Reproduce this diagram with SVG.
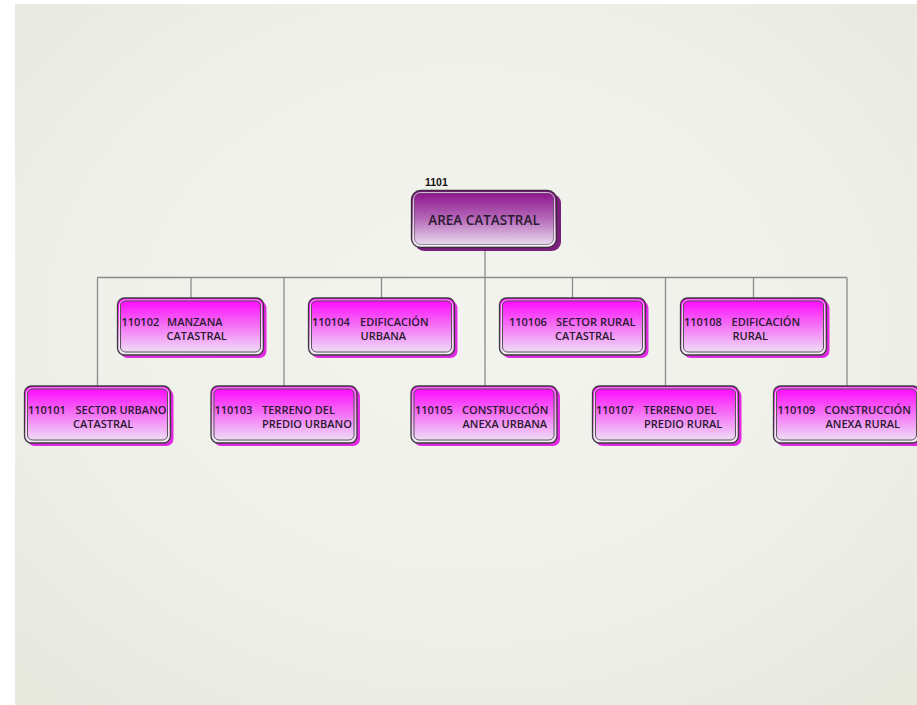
<svg xmlns="http://www.w3.org/2000/svg" width="917" height="705" viewBox="0 0 917 705">
<defs>
  <radialGradient id="bg" cx="0.5" cy="0.45" r="0.7">
    <stop offset="0" stop-color="#f4f4ef"/>
    <stop offset="0.6" stop-color="#eff0e9"/>
    <stop offset="1" stop-color="#e7e9df"/>
  </radialGradient>
  <linearGradient id="child" x1="0" y1="0" x2="0" y2="1">
    <stop offset="0" stop-color="#ff00ff"/>
    <stop offset="0.45" stop-color="#f56af5"/>
    <stop offset="1" stop-color="#efe8f8"/>
  </linearGradient>
  <linearGradient id="root" x1="0" y1="0" x2="0" y2="1">
    <stop offset="0" stop-color="#880e8a"/>
    <stop offset="0.5" stop-color="#b66ab9"/>
    <stop offset="1" stop-color="#eee6f4"/>
  </linearGradient>
</defs>
<style>
  .shadow { fill: #e42ae4; }
  .rshadow { fill: #7c1f7c; }
  .box { fill: url(#child); stroke: #3c3c3c; stroke-width: 1.3; }
  .rbox { fill: url(#root); stroke: #3a2a3a; stroke-width: 1.3; }
  .inner { fill: none; stroke: #fafafa; stroke-width: 1; stroke-opacity: 0.7; }
  .inner2 { fill: none; stroke: #555; stroke-width: 1; }
  .lbl { font-family: "Open Sans", "DejaVu Sans", sans-serif; font-weight: 600; font-size: 11px; fill: #2a1a30; }
  .rlbl { font-family: "Open Sans", "DejaVu Sans", sans-serif; font-weight: 600; font-size: 13.5px; fill: #2a1a30; }
  .code { font-family: "Liberation Sans", Arial, sans-serif; font-weight: bold; font-size: 10.5px; fill: #111; }
  .conn { stroke: #8a8a8a; stroke-width: 1.3; fill: none; }
</style>

<rect x="0" y="0" width="917" height="705" fill="#ffffff"/>
<rect x="15" y="4" width="902" height="701" fill="url(#bg)"/>

<g id="connectors">
  <line class="conn" x1="485" y1="248" x2="485" y2="386"/>
  <line class="conn" x1="97.5" y1="277.5" x2="847" y2="277.5"/>
  <line class="conn" x1="191" y1="277.5" x2="191" y2="298"/>
  <line class="conn" x1="381.5" y1="277.5" x2="381.5" y2="298"/>
  <line class="conn" x1="572.5" y1="277.5" x2="572.5" y2="298"/>
  <line class="conn" x1="753.5" y1="277.5" x2="753.5" y2="298"/>
  <line class="conn" x1="97.5" y1="277.5" x2="97.5" y2="386"/>
  <line class="conn" x1="284" y1="277.5" x2="284" y2="386"/>
  <line class="conn" x1="665.5" y1="277.5" x2="665.5" y2="386"/>
  <line class="conn" x1="847" y1="277.5" x2="847" y2="386"/>
</g>

<g id="n1101">
  <text class="code" x="425" y="185.5">1101</text>
  <rect class="rshadow" x="415" y="194" width="146" height="57" rx="9"/>
  <rect class="rbox" x="411.5" y="190.5" width="145" height="57" rx="9"/>
  <rect class="inner" x="413.5" y="192.5" width="141" height="53" rx="7"/>
  <rect class="inner2" x="414.5" y="193.5" width="139" height="51" rx="6.5" stroke-opacity="0.6"/>
  <text class="rlbl" x="484" y="224.5" text-anchor="middle">AREA CATASTRAL</text>
</g>

<g id="n110102">
  <rect class="shadow" x="120.5" y="301" width="146" height="57" rx="7"/>
  <rect class="box" x="117.5" y="298" width="146" height="57" rx="7"/>
  <rect class="inner" x="119.5" y="300" width="142" height="53" rx="5.5"/>
  <rect class="inner2" x="120.5" y="301" width="140" height="51" rx="5"/>
  <text class="lbl"><tspan x="121.5" y="326">110102</tspan><tspan x="167" y="326">MANZANA</tspan><tspan x="166.5" y="339.5">CATASTRAL</tspan></text>
</g>

<g id="n110104">
  <rect class="shadow" x="311.5" y="301" width="146" height="57" rx="7"/>
  <rect class="box" x="308.5" y="298" width="146" height="57" rx="7"/>
  <rect class="inner" x="310.5" y="300" width="142" height="53" rx="5.5"/>
  <rect class="inner2" x="311.5" y="301" width="140" height="51" rx="5"/>
  <text class="lbl"><tspan x="312" y="326">110104</tspan><tspan x="360" y="326">EDIFICACIÓN</tspan><tspan x="360.5" y="339.5">URBANA</tspan></text>
</g>

<g id="n110106">
  <rect class="shadow" x="502.5" y="301" width="146" height="57" rx="7"/>
  <rect class="box" x="499.5" y="298" width="146" height="57" rx="7"/>
  <rect class="inner" x="501.5" y="300" width="142" height="53" rx="5.5"/>
  <rect class="inner2" x="502.5" y="301" width="140" height="51" rx="5"/>
  <text class="lbl"><tspan x="509" y="326">110106</tspan><tspan x="556" y="326">SECTOR RURAL</tspan><tspan x="555" y="339.5">CATASTRAL</tspan></text>
</g>

<g id="n110108">
  <rect class="shadow" x="683.5" y="301" width="146" height="57" rx="7"/>
  <rect class="box" x="680.5" y="298" width="146" height="57" rx="7"/>
  <rect class="inner" x="682.5" y="300" width="142" height="53" rx="5.5"/>
  <rect class="inner2" x="683.5" y="301" width="140" height="51" rx="5"/>
  <text class="lbl"><tspan x="684" y="326">110108</tspan><tspan x="731.5" y="326">EDIFICACIÓN</tspan><tspan x="732.5" y="339.5">RURAL</tspan></text>
</g>

<g id="n110101">
  <rect class="shadow" x="27.5" y="389" width="146" height="57" rx="7"/>
  <rect class="box" x="24.5" y="386" width="146" height="57" rx="7"/>
  <rect class="inner" x="26.5" y="388" width="142" height="53" rx="5.5"/>
  <rect class="inner2" x="27.5" y="389" width="140" height="51" rx="5"/>
  <text class="lbl"><tspan x="28" y="414.3">110101</tspan><tspan x="75.5" y="414.3">SECTOR URBANO</tspan><tspan x="73" y="427.7">CATASTRAL</tspan></text>
</g>

<g id="n110103">
  <rect class="shadow" x="214" y="389" width="146" height="57" rx="7"/>
  <rect class="box" x="211" y="386" width="146" height="57" rx="7"/>
  <rect class="inner" x="213" y="388" width="142" height="53" rx="5.5"/>
  <rect class="inner2" x="214" y="389" width="140" height="51" rx="5"/>
  <text class="lbl"><tspan x="214.5" y="414.3">110103</tspan><tspan x="262" y="414.3">TERRENO DEL</tspan><tspan x="262" y="427.7">PREDIO URBANO</tspan></text>
</g>

<g id="n110105">
  <rect class="shadow" x="414" y="389" width="146" height="57" rx="7"/>
  <rect class="box" x="411" y="386" width="146" height="57" rx="7"/>
  <rect class="inner" x="413" y="388" width="142" height="53" rx="5.5"/>
  <rect class="inner2" x="414" y="389" width="140" height="51" rx="5"/>
  <text class="lbl"><tspan x="415" y="414.3">110105</tspan><tspan x="462" y="414.3">CONSTRUCCIÓN</tspan><tspan x="462.5" y="427.7">ANEXA URBANA</tspan></text>
</g>

<g id="n110107">
  <rect class="shadow" x="595.5" y="389" width="146" height="57" rx="7"/>
  <rect class="box" x="592.5" y="386" width="146" height="57" rx="7"/>
  <rect class="inner" x="594.5" y="388" width="142" height="53" rx="5.5"/>
  <rect class="inner2" x="595.5" y="389" width="140" height="51" rx="5"/>
  <text class="lbl"><tspan x="596" y="414.3">110107</tspan><tspan x="643.5" y="414.3">TERRENO DEL</tspan><tspan x="644" y="427.7">PREDIO RURAL</tspan></text>
</g>

<g id="n110109">
  <rect class="shadow" x="776.5" y="389" width="146" height="57" rx="7"/>
  <rect class="box" x="773.5" y="386" width="146" height="57" rx="7"/>
  <rect class="inner" x="775.5" y="388" width="142" height="53" rx="5.5"/>
  <rect class="inner2" x="776.5" y="389" width="140" height="51" rx="5"/>
  <text class="lbl"><tspan x="777.5" y="414.3">110109</tspan><tspan x="824.5" y="414.3">CONSTRUCCIÓN</tspan><tspan x="825.5" y="427.7">ANEXA RURAL</tspan></text>
</g>
</svg>
